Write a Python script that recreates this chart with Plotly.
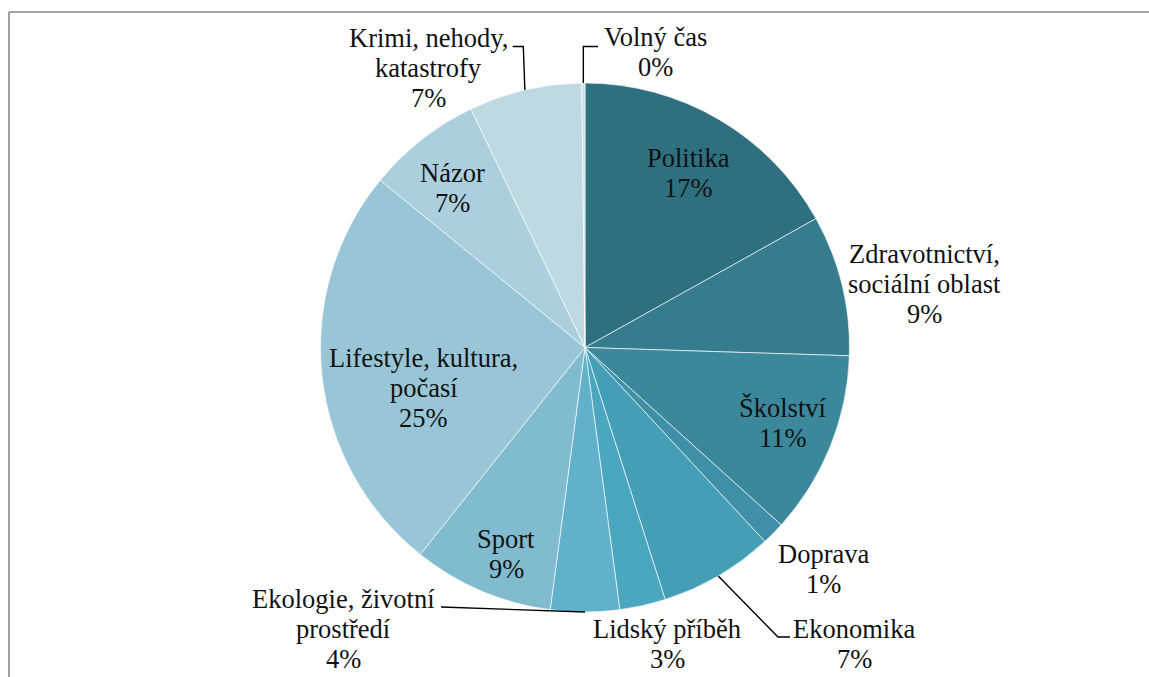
import math
import plotly.graph_objects as go

# Share of articles by topic (percent)
categories = [
    "Politika",
    "Zdravotnictví, sociální oblast",
    "Školství",
    "Doprava",
    "Ekonomika",
    "Lidský příběh",
    "Ekologie, životní prostředí",
    "Sport",
    "Lifestyle, kultura, počasí",
    "Názor",
    "Krimi, nehody, katastrofy",
    "Volný čas",
]
values = [16.9, 8.6, 11.2, 1.4, 7.0, 2.8, 4.2, 8.6, 25.2, 7.0, 6.9, 0.2]

colors = [
    "#2F7080", "#357C8E", "#3B889C", "#3F90A6", "#449FB6", "#4AA7BF",
    "#62B1CA", "#80BBD0", "#99C6D6", "#ACCFDD", "#BFD9E3", "#CBE0E8",
]

# How each category name is broken over lines in its label
wrapped = {
    "Zdravotnictví, sociální oblast": ["Zdravotnictví,", "sociální oblast"],
    "Ekologie, životní prostředí": ["Ekologie, životní", "prostředí"],
    "Lifestyle, kultura, počasí": ["Lifestyle, kultura,", "počasí"],
    "Krimi, nehody, katastrofy": ["Krimi, nehody,", "katastrofy"],
}

W, H = 1149, 677
CX, CY, R = 585.0, 347.5, 264.5
FONT = "'Liberation Serif', 'Times New Roman', Times, 'DejaVu Serif', serif"
FS = 26.5
LINE = 30.0


def px(x):
    return x / W


def py(y):
    return 1 - y / H


# Label anchor: centre x and first-line baseline, in page pixels
label_pos = {
    "Politika": (688, 167),
    "Zdravotnictví, sociální oblast": (924, 263),
    "Školství": (783, 417),
    "Doprava": (823, 563),
    "Ekonomika": (854, 638),
    "Lidský příběh": (667, 638),
    "Ekologie, životní prostředí": (343, 608),
    "Sport": (506, 548),
    "Lifestyle, kultura, počasí": (424, 367),
    "Názor": (452, 182),
    "Krimi, nehody, katastrofy": (428, 47),
    "Volný čas": (655, 46),
}

# Leader-line elbows (from slice rim outwards), page pixels
leaders = {
    "Volný čas": [(None, 46.5), (598, 46.5)],
    "Krimi, nehody, katastrofy": [(523.3, 46.5), (512.7, 46.5)],
    "Ekonomika": [(778, 637), (790, 637)],
    "Ekologie, životní prostředí": [(441, 607)],
}

total = sum(values)

fig = go.Figure(
    go.Pie(
        labels=categories,
        values=values,
        sort=False,
        direction="clockwise",
        rotation=0,
        marker=dict(colors=colors, line=dict(color="rgba(255,255,255,0.8)", width=0.8)),
        textinfo="none",
        hoverinfo="label+percent",
        showlegend=False,
        domain=dict(x=[px(CX - R), px(CX + R)], y=[py(CY + R), py(CY - R)]),
    )
)

annotations = []
shapes = []

cum = 0.0
for cat, v in zip(categories, values):
    frac = v / total
    mid = (cum + frac / 2) * 2 * math.pi
    cum += frac
    pct = int(math.floor(frac * 100 + 0.5))
    lines = wrapped.get(cat, [cat]) + [f"{pct}%"]
    x0, y0 = label_pos[cat]
    for i, line in enumerate(lines):
        base = y0 + i * LINE
        annotations.append(
            dict(
                x=px(x0), y=py(base - 0.3375 * FS), xref="paper", yref="paper",
                text=line, showarrow=False, xanchor="center", yanchor="middle",
                font=dict(family=FONT, size=FS, color="#111111"),
            )
        )
    if cat in leaders:
        rx = CX + R * math.sin(mid)
        ry = CY - R * math.cos(mid)
        pts = [(rx, ry)]
        for ex, ey in leaders[cat]:
            pts.append((rx if ex is None else ex, ey))
        path = "M " + " L ".join(f"{px(a):.5f},{py(b):.5f}" for a, b in pts)
        shapes.append(
            dict(type="path", path=path, xref="paper", yref="paper",
                 line=dict(color="#000000", width=1.4))
        )

# Chart frame (top and left edges)
shapes.append(dict(type="line", xref="paper", yref="paper", x0=px(9), y0=py(12),
                   x1=1, y1=py(12), line=dict(color="#888888", width=1.6)))
shapes.append(dict(type="line", xref="paper", yref="paper", x0=px(9), y0=py(12),
                   x1=px(9), y1=0, line=dict(color="#888888", width=1.6)))

fig.update_layout(
    width=W,
    height=H,
    margin=dict(l=0, r=0, t=0, b=0),
    paper_bgcolor="white",
    plot_bgcolor="white",
    font=dict(family=FONT),
    annotations=annotations,
    shapes=shapes,
)

fig.write_html("out.html")
